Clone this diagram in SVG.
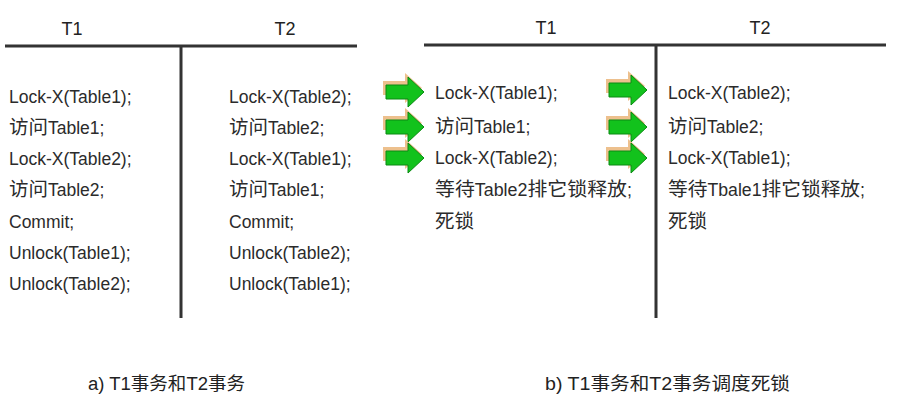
<svg xmlns="http://www.w3.org/2000/svg" width="906" height="402" viewBox="0 0 906 402">
<style>
.t{font-family:"Liberation Sans","Noto Sans CJK SC",sans-serif;font-size:17.5px;fill:#2b2b2b}
.k{font-family:"Noto Sans CJK SC",sans-serif;font-size:19.5px}
.h{font-family:"Liberation Sans","Noto Sans CJK SC",sans-serif;font-size:18px;fill:#222;text-anchor:middle}
.c{font-family:"Liberation Sans","Noto Sans CJK SC",sans-serif;font-size:18px;fill:#222}
.ln{stroke:#333;stroke-width:3;fill:none}
</style>
<defs>
<g id="arr">
<path d="M-1,4 H21 V-4 L38,11 L21,26 V18 H-1 Z" fill="#e8b070" opacity="0.8" transform="translate(-2,-2)"/>
<path d="M0,6 H22 V-2 L38,13 L22,28 V20 H0 Z" fill="#12c21c" stroke="#0a8a12" stroke-width="1"/>
</g>
</defs>
<g id="table-a">
<line class="ln" x1="5" y1="46" x2="357" y2="46"/>
<line class="ln" x1="181" y1="46" x2="181" y2="318"/>
<text class="h" x="72" y="35">T1</text>
<text class="h" x="285" y="35">T2</text>
</g>
<g id="a-t1">
<text class="t" x="9" y="103">Lock-X(Table1);</text>
<text class="t" x="9" y="134"><tspan class="k">访问</tspan>Table1;</text>
<text class="t" x="9" y="165">Lock-X(Table2);</text>
<text class="t" x="9" y="196"><tspan class="k">访问</tspan>Table2;</text>
<text class="t" x="9" y="228">Commit;</text>
<text class="t" x="9" y="259">Unlock(Table1);</text>
<text class="t" x="9" y="290">Unlock(Table2);</text>
</g>
<g id="a-t2">
<text class="t" x="229" y="103">Lock-X(Table2);</text>
<text class="t" x="229" y="134"><tspan class="k">访问</tspan>Table2;</text>
<text class="t" x="229" y="165">Lock-X(Table1);</text>
<text class="t" x="229" y="196"><tspan class="k">访问</tspan>Table1;</text>
<text class="t" x="229" y="228">Commit;</text>
<text class="t" x="229" y="259">Unlock(Table2);</text>
<text class="t" x="229" y="290">Unlock(Table1);</text>
</g>
<g id="table-b">
<line class="ln" x1="424" y1="45" x2="886" y2="45"/>
<line class="ln" x1="656" y1="45" x2="656" y2="318"/>
<text class="h" x="546" y="34">T1</text>
<text class="h" x="760" y="34">T2</text>
</g>
<g id="b-t1">
<text class="t" x="435" y="99">Lock-X(Table1);</text>
<text class="t" x="435" y="133"><tspan class="k">访问</tspan>Table1;</text>
<text class="t" x="435" y="164">Lock-X(Table2);</text>
<text class="t" x="435" y="196" textLength="197" lengthAdjust="spacingAndGlyphs"><tspan class="k">等待</tspan>Table2<tspan class="k">排它锁释放</tspan>;</text>
<text class="t" x="435" y="228"><tspan class="k">死锁</tspan></text>
</g>
<g id="b-t2">
<text class="t" x="668" y="99">Lock-X(Table2);</text>
<text class="t" x="668" y="133"><tspan class="k">访问</tspan>Table2;</text>
<text class="t" x="668" y="164">Lock-X(Table1);</text>
<text class="t" x="668" y="196" textLength="197" lengthAdjust="spacingAndGlyphs"><tspan class="k">等待</tspan>Tbale1<tspan class="k">排它锁释放</tspan>;</text>
<text class="t" x="668" y="228"><tspan class="k">死锁</tspan></text>
</g>
<g id="arrows">
<use href="#arr" x="386" y="79"/>
<use href="#arr" x="386" y="114"/>
<use href="#arr" x="386" y="145"/>
<use href="#arr" x="609" y="77"/>
<use href="#arr" x="609" y="114"/>
<use href="#arr" x="609" y="145"/>
</g>
<g id="captions">
<text class="c" x="88" y="390" textLength="157" lengthAdjust="spacingAndGlyphs">a) T1事务和T2事务</text>
<text class="c" x="545" y="390" textLength="245" lengthAdjust="spacingAndGlyphs">b) T1事务和T2事务调度死锁</text>
</g>
</svg>
